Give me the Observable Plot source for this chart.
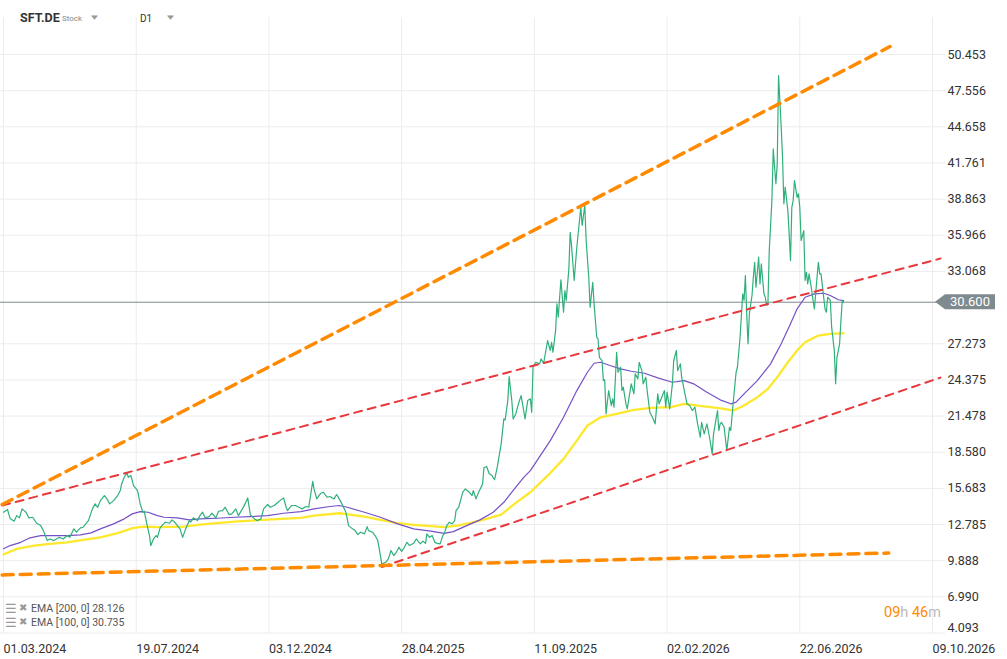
<!DOCTYPE html>
<html><head><meta charset="utf-8">
<script src="https://cdn.jsdelivr.net/npm/d3@7"></script>
<script src="https://cdn.jsdelivr.net/npm/@observablehq/plot@0.6"></script>
<style>
body{margin:0;background:#fff;font-family:Roboto,"Noto Sans",sans-serif;}
#wrap{position:relative;width:1007px;height:659px;overflow:hidden;}
#wrap svg{position:absolute;left:0;top:0;}
.ov{position:absolute;white-space:nowrap;line-height:1;}
</style></head><body><div id="wrap"></div>
<script>
const ticker = "SFT.DE";
const assetType = "Stock";
const interval = "D1";
const lastPrice = 30.600;
const ema200Label = "EMA [200, 0] 28.126";
const ema100Label = "EMA [100, 0] 30.735";
const countdown = ["09","h ","46","m"];

const xTicks = [0,100,200,300,400,500,600,700];
const xLabels = ["01.03.2024","19.07.2024","03.12.2024","28.04.2025","11.09.2025","02.02.2026","22.06.2026","09.10.2026"];
const yTicks = [50.453,47.556,44.658,41.761,38.863,35.966,33.068,27.273,24.375,21.478,18.580,15.683,12.785,9.888,6.990,4.093];

// [bar index, close]
const price = [
[0,13.77],[3,13.99],[5,13.26],[8,13.05],[10,13.50],[12,13.32],[14,14.04],[17,13.77],[19,13.32],[22,13.37],
[25,12.89],[28,12.70],[30,12.30],[33,11.50],[35,11.63],[38,11.50],[42,11.76],[45,11.63],[48,11.90],[50,11.76],
[53,12.44],[55,12.17],[58,12.52],[60,12.57],[64,13.10],[67,14.04],[69,14.44],[71,14.17],[73,14.70],[76,15.11],
[78,14.84],[80,14.44],[83,14.70],[86,15.11],[88,15.51],[89,16.04],[91,16.57],[93,16.93],[94,16.57],[96,16.71],
[98,15.91],[101,15.51],[103,14.44],[105,13.77],[106,13.85],[108,12.84],[110,11.90],[111,11.10],[113,11.63],[115,11.90],
[116,11.76],[118,12.52],[120,12.78],[122,12.97],[125,12.89],[127,13.16],[129,12.97],[131,12.70],[133,12.44],[135,11.76],
[137,12.36],[140,13.10],[141,12.97],[143,13.32],[146,13.10],[148,13.50],[150,13.77],[152,13.32],[155,13.42],[157,13.69],
[160,13.32],[162,13.85],[165,13.90],[167,14.17],[170,13.58],[172,13.64],[175,14.04],[177,13.50],[180,14.04],[182,14.44],
[184,14.92],[186,13.58],[189,13.24],[191,13.10],[194,13.24],[196,14.04],[199,14.39],[201,14.17],[204,14.31],[206,14.49],
[209,14.76],[211,14.92],[213,14.17],[214,13.90],[217,14.31],[220,14.31],[224,14.09],[225,14.04],[228,14.23],[230,14.17],
[233,16.25],[234,15.64],[236,14.84],[239,15.29],[241,15.37],[244,14.97],[246,15.03],[249,14.84],[251,15.19],[253,14.84],
[255,14.44],[258,13.77],[260,12.70],[263,12.44],[265,12.30],[267,11.98],[269,12.17],[272,12.04],[274,12.62],[275,12.30],
[278,12.17],[280,11.90],[282,11.50],[284,10.30],[285,9.63],[288,9.76],[290,10.03],[292,10.70],[294,10.30],[296,10.56],
[298,10.96],[300,10.64],[302,10.96],[304,11.36],[306,11.10],[309,11.28],[311,11.63],[314,11.24],[316,11.45],[318,11.28],
[319,12.04],[321,11.76],[323,11.90],[325,11.36],[327,11.28],[329,11.23],[331,11.90],[332,12.04],[334,12.70],[336,12.97],
[338,12.84],[340,13.10],[341,13.91],[343,14.17],[346,15.37],[348,15.64],[351,15.37],[353,15.11],[354,15.51],[356,14.84],
[358,15.37],[361,16.04],[362,17.33],[364,17.43],[366,16.85],[368,16.71],[370,16.37],[372,17.37],[375,19.25],[377,21.25],
[378,21.17],[380,22.72],[381,24.64],[383,22.72],[384,21.25],[386,21.65],[388,22.46],[390,23.12],[391,22.51],[393,21.25],
[395,22.72],[397,22.86],[398,21.78],[399,25.39],[401,25.79],[404,25.66],[405,26.06],[407,25.71],[408,26.33],[410,27.53],
[412,26.73],[413,27.39],[414,26.59],[416,28.33],[417,30.47],[418,29.40],[420,32.40],[422,29.80],[423,31.54],[424,30.74],
[426,33.27],[427,36.21],[428,35.14],[430,32.34],[432,35.01],[434,37.15],[435,38.21],[436,36.75],[438,38.35],[439,35.59],
[441,32.60],[442,30.20],[444,32.20],[445,30.47],[447,27.79],[448,27.67],[449,26.19],[451,25.93],[452,24.32],[453,24.38],
[454,21.66],[456,23.52],[458,22.32],[459,22.86],[460,22.19],[462,26.59],[463,24.99],[465,25.39],[466,23.52],[467,23.79],
[469,22.46],[470,22.06],[473,24.06],[475,23.26],[476,24.86],[478,24.46],[479,25.79],[481,25.12],[482,24.06],[484,24.59],
[485,23.52],[487,21.78],[489,21.38],[491,20.85],[493,23.26],[494,22.46],[496,22.99],[498,23.52],[499,22.19],[500,23.39],
[502,22.06],[504,24.06],[505,25.93],[507,26.73],[508,25.12],[510,25.66],[511,24.59],[513,23.52],[515,22.46],[517,22.32],
[519,21.92],[521,22.19],[523,20.85],[525,19.78],[526,20.98],[528,20.05],[530,20.85],[532,19.78],[534,18.45],[535,20.05],
[538,21.92],[539,20.32],[540,20.85],[541,20.98],[543,20.58],[545,18.71],[547,20.58],[548,20.32],[550,22.72],[552,24.99],
[553,25.39],[555,27.79],[557,31.27],[558,30.74],[559,32.74],[560,29.67],[561,27.27],[562,29.67],[564,31.14],[565,32.60],
[566,33.80],[567,31.80],[569,34.21],[570,32.07],[571,33.68],[573,31.27],[574,31.00],[575,30.34],[576,30.47],[577,34.74],
[579,38.75],[580,42.90],[581,41.42],[582,40.09],[583,41.69],[584,48.77],[586,44.63],[587,42.22],[588,38.49],[589,39.82],
[591,37.95],[592,36.08],[593,33.94],[594,38.21],[595,38.75],[596,40.35],[598,39.01],[599,39.29],[600,38.21],[601,35.54],
[603,36.34],[604,32.34],[605,33.00],[606,32.07],[607,32.87],[609,31.54],[610,30.74],[611,30.07],[613,32.60],[614,33.80],
[615,32.87],[616,32.87],[618,31.00],[619,30.07],[620,29.80],[621,31.00],[623,30.74],[624,28.60],[626,26.73],[627,24.06],
[628,26.19],[630,27.27],[631,29.13],[632,30.74],[633,30.60]
];

const ema100 = [
[0,10.84],[5,11.10],[13,11.36],[20,11.72],[28,11.90],[48,11.90],[58,11.96],[66,12.12],[73,12.44],[83,12.84],
[91,13.24],[97,13.64],[103,13.82],[109,13.77],[116,13.50],[121,13.37],[131,13.32],[140,13.16],[148,13.24],[161,13.29],
[174,13.37],[186,13.42],[199,13.50],[211,13.69],[224,13.82],[234,14.04],[246,14.23],[253,14.31],[259,14.17],[272,13.77],
[284,13.37],[297,12.84],[309,12.44],[322,12.25],[332,12.08],[339,12.22],[349,12.70],[359,13.16],[369,13.77],[377,14.57],
[385,15.64],[392,16.57],[397,17.11],[402,17.91],[412,19.51],[422,21.38],[432,23.52],[440,24.99],[445,25.71],[450,25.79],
[457,25.53],[465,25.26],[473,25.07],[483,24.91],[493,24.54],[504,24.19],[513,24.32],[520,24.06],[530,23.39],[540,22.78],
[548,22.46],[552,22.59],[558,23.26],[568,24.32],[578,25.66],[586,27.27],[593,28.87],[598,30.07],[604,31.00],[611,31.27],
[618,31.32],[623,31.14],[629,30.80],[633,30.735]
];

const ema200 = [
[0,10.38],[10,10.83],[23,11.10],[35,11.24],[48,11.36],[60,11.56],[73,11.76],[86,12.09],[98,12.52],[106,12.62],
[116,12.57],[136,12.62],[148,12.78],[174,13.02],[199,13.18],[224,13.32],[234,13.50],[253,13.69],[272,13.42],[284,13.16],
[297,12.89],[309,12.76],[322,12.65],[332,12.57],[342,12.70],[352,12.92],[364,13.24],[375,13.58],[385,14.44],[397,15.37],
[410,16.70],[422,18.05],[432,19.51],[440,20.72],[450,21.38],[462,21.65],[475,21.97],[488,22.14],[503,22.19],[513,22.46],
[523,22.32],[533,22.19],[543,22.06],[550,21.92],[558,22.32],[568,22.99],[576,23.66],[583,24.59],[591,25.79],[598,26.73],
[604,27.39],[614,27.93],[623,28.07],[633,28.126]
];

// trend lines: [bar index, price] endpoints
const orangeUpper = [[-1,14.39],[668,51.09]];
const orangeLower = [[-1,8.75],[667,10.50]];
const redUpper = [[-1,14.31],[706,34.10]];
const redLower = [[285,9.38],[706,24.56]];

const chart = Plot.plot({
  width: 1007, height: 659,
  marginLeft: 0, marginRight: 62, marginTop: 17, marginBottom: 26,
  style: {fontFamily: "Roboto, sans-serif", background: "transparent", overflow: "visible"},
  x: {type: "linear", domain: [0, 700], range: [3, 932]},
  y: {type: "linear", domain: [4.093, 50.453], range: [632.5, 54]},
  marks: [
    Plot.gridX(xTicks, {stroke: "#ececec", strokeOpacity: 1}),
    Plot.gridY(yTicks, {stroke: "#ececec", strokeOpacity: 1}),
    Plot.axisX(xTicks, {anchor: "bottom", tickSize: 0, tickPadding: 11, textAnchor: "start", dx: 0,
      tickFormat: d => xLabels[xTicks.indexOf(d)], fontSize: 12.5, fill: "#333"}),
    Plot.axisY(yTicks.slice(0, -1), {anchor: "right", tickSize: 0, tickPadding: 2,
      tickFormat: d => d.toFixed(3), fontSize: 12.5, fill: "#333"}),
    Plot.axisY(yTicks.slice(-1), {anchor: "right", tickSize: 0, tickPadding: 2, dy: -5,
      tickFormat: d => d.toFixed(3), fontSize: 12.5, fill: "#333"}),
    Plot.ruleY([lastPrice], {stroke: "#7f8a8e", strokeWidth: 1}),
    Plot.line(ema200, {x: d => d[0], y: d => d[1], stroke: "#fde82c", strokeWidth: 2.3}),
    Plot.line(ema100, {x: d => d[0], y: d => d[1], stroke: "#7650c8", strokeWidth: 1.2}),
    Plot.line(price, {x: d => d[0], y: d => d[1], stroke: "#2fb07a", strokeWidth: 1.2}),
    Plot.line(redUpper, {x: d => d[0], y: d => d[1], stroke: "#e8383d", strokeWidth: 2, strokeDasharray: "8,6"}),
    Plot.line(redLower, {x: d => d[0], y: d => d[1], stroke: "#e8383d", strokeWidth: 2, strokeDasharray: "8,6"}),
    Plot.line(orangeUpper, {x: d => d[0], y: d => d[1], stroke: "#ff8a00", strokeWidth: 3.5, strokeDasharray: "11,7"}),
    Plot.line(orangeLower, {x: d => d[0], y: d => d[1], stroke: "#ff8a00", strokeWidth: 3.5, strokeDasharray: "11,7"})
  ]
});
const wrap = document.getElementById("wrap");
wrap.appendChild(chart);

// last price label box, positioned with the chart's own y scale
const yPx = chart.scale("y").apply(lastPrice);
const svg = d3.select(chart);
const g = svg.append("g");
g.append("path")
  .attr("d", `M935,${yPx} L945,${yPx-7.5} L995,${yPx-7.5} L995,${yPx+7.5} L945,${yPx+7.5} Z`)
  .attr("fill", "#7f8a8e");
g.append("text").attr("x", 970).attr("y", yPx).attr("dy", "0.36em")
  .attr("text-anchor", "middle").attr("fill", "#fff")
  .attr("font-family", "Roboto, sans-serif").attr("font-size", 13).text(lastPrice.toFixed(3));

function ov(html, left, top, style) {
  const d = document.createElement("div");
  d.className = "ov"; d.innerHTML = html;
  d.style.left = left + "px"; d.style.top = top + "px";
  Object.assign(d.style, style || {});
  wrap.appendChild(d);
}
// header
ov(ticker, 20, 12, {fontWeight: "bold", fontSize: "12.5px", color: "#333"});
ov(assetType, 62, 15, {fontSize: "8px", color: "#888"});
ov("&#9660;", 91, 13, {fontSize: "9px", color: "#999", fontFamily: "DejaVu Sans", transform: "scaleY(0.6)"});
ov(interval, 140, 14, {fontSize: "10px", color: "#333"});
ov("&#9660;", 167, 13, {fontSize: "9px", color: "#999", fontFamily: "DejaVu Sans", transform: "scaleY(0.6)"});
// legend
const legendLines = [ema200Label, ema100Label];
legendLines.forEach((t, i) => {
  const top = 604 + i * 14;
  ov("&#9776;", 5, top - 2, {fontSize: "13px", color: "#999", fontWeight: "bold", fontFamily: "DejaVu Sans"});
  ov("&#10006;", 19, top - 1, {fontSize: "10px", color: "#999", fontFamily: "DejaVu Sans"});
  ov(t, 31, top, {fontSize: "10.5px", color: "#555"});
});
// countdown
ov(`<span style="color:#ff8a00">${countdown[0]}</span><span style="color:#bbb">${countdown[1]}</span><span style="color:#ff8a00">${countdown[2]}</span><span style="color:#bbb">${countdown[3]}</span>`,
  884, 606, {fontSize: "14.5px"});
</script></body></html>
